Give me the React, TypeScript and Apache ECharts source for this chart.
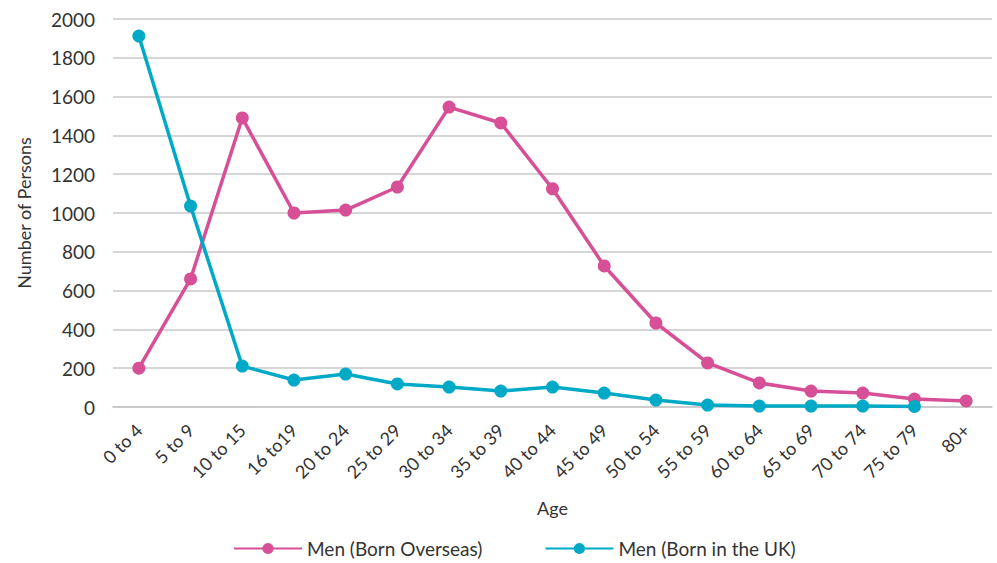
import React, { useEffect, useRef } from "react";
import * as echarts from "echarts";

const ageGroups = [
  "0 to 4", "5 to 9", "10 to 15", "16 to19", "20 to 24", "25 to 29", "30 to 34",
  "35 to 39", "40 to 44", "45 to 49", "50 to 54", "55 to 59", "60 to 64",
  "65 to 69", "70 to 74", "75 to 79", "80+",
];

const bornOverseas = [200, 660, 1490, 1000, 1015, 1134, 1546, 1464, 1125, 727, 433, 227, 124, 82, 72, 41, 31];
const bornUK = [1912, 1036, 211, 139, 170, 119, 103, 82, 103, 72, 36, 10, 5, 5, 5, 3, null];

const PINK = "#D64F97";
const TEAL = "#00A9C5";
const TEXT = "#333333";
const FONT = "Lato, 'Noto Sans', sans-serif";

export default function App() {
  const ref = useRef<HTMLDivElement>(null);

  useEffect(() => {
    if (!ref.current) return;
    const chart = echarts.init(ref.current, undefined, { renderer: "svg" });
    chart.setOption({
      animation: false,
      textStyle: { fontFamily: FONT, color: TEXT },
      grid: { left: 113, right: 5, top: 19, bottom: 156 },
      legend: {
        bottom: 0,
        left: 228,
        itemWidth: 68,
        itemHeight: 14,
        itemGap: 62,
        textStyle: { fontSize: 19, color: TEXT, fontFamily: FONT },
        data: ["Men (Born Overseas)", "Men (Born in the UK)"],
      },
      xAxis: {
        type: "category",
        data: ageGroups,
        boundaryGap: true,
        name: "Age",
        nameLocation: "middle",
        nameGap: 92,
        nameTextStyle: { fontSize: 18, color: TEXT },
        axisLine: { lineStyle: { color: "#c8c8c8", width: 1.5 } },
        axisTick: { show: false },
        axisLabel: { rotate: 45, fontSize: 18, color: TEXT, margin: 20, interval: 0 },
      },
      yAxis: {
        type: "value",
        min: 0,
        max: 2000,
        interval: 200,
        name: "Number of Persons",
        nameLocation: "middle",
        nameGap: 80,
        nameRotate: 90,
        nameTextStyle: { fontSize: 18, color: TEXT },
        axisLabel: { fontSize: 19, color: TEXT, margin: 18, formatter: (v: number) => String(v) },
        axisLine: { show: false },
        axisTick: { show: false },
        splitLine: { lineStyle: { color: "#c8c8c8", width: 1.5 } },
      },
      series: [
        {
          name: "Men (Born Overseas)",
          type: "line",
          data: bornOverseas,
          symbol: "circle",
          symbolSize: 13,
          lineStyle: { color: PINK, width: 3.5 },
          itemStyle: { color: PINK },
        },
        {
          name: "Men (Born in the UK)",
          type: "line",
          data: bornUK,
          symbol: "circle",
          symbolSize: 13,
          lineStyle: { color: TEAL, width: 3.5 },
          itemStyle: { color: TEAL },
        },
      ],
    });
    return () => chart.dispose();
  }, []);

  return <div ref={ref} style={{ width: 997, height: 563, position: "absolute", left: 0, top: 0 }} />;
}
